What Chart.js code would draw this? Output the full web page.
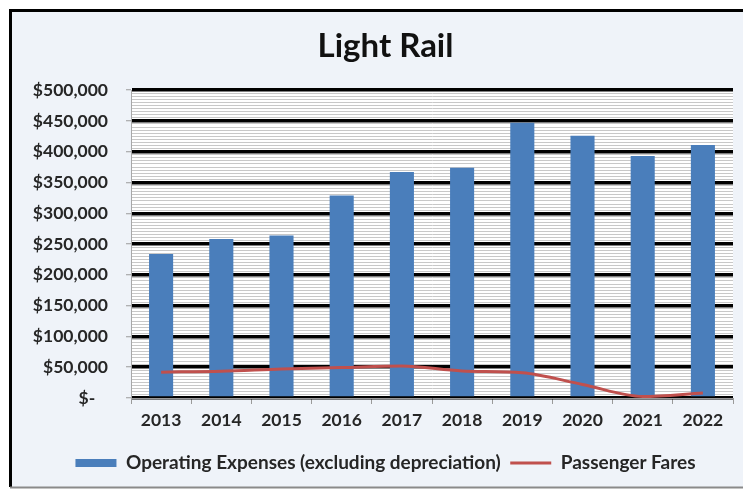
<!DOCTYPE html>
<html>
<head>
<meta charset="utf-8">
<title>Light Rail</title>
<script src="https://cdn.jsdelivr.net/npm/chart.js@4/dist/chart.umd.min.js"></script>
<style>
  html, body { margin: 0; padding: 0; background: #ffffff; }
  #wrap { width: 743px; height: 490px; position: relative; }
</style>
</head>
<body>
<div id="wrap"><canvas id="chart" width="743" height="490"></canvas></div>
<script>
// Fiscal years shown on the category axis
const years = ['2013', '2014', '2015', '2016', '2017', '2018', '2019', '2020', '2021', '2022'];

// Operating expenses (excluding depreciation), dollars
const operatingExpenses = [234000, 258000, 264000, 329000, 367000, 374000, 447000, 426000, 393000, 411000];

// Passenger fare revenue, dollars
const passengerFares = [42000, 43500, 47000, 49500, 52000, 44000, 41000, 22000, 2500, 8000];

// Value axis: labelled every 50,000 with light minor rules every 5,000
const yMax = 500000;
const majorStep = 50000;
const minorStep = 5000;

const FONT = 'Lato, "Open Sans", sans-serif';
const TEXT = '#262626';

function moneyLabel(v) {
  if (v === 0) return '$-   ';
  return '$' + v.toLocaleString('en-US');
}
const isMajor = v => v % majorStep === 0;

// Framed panel behind the chart, and a white plot area
const framePlugin = {
  id: 'frame',
  afterLayout(chart) {
    // title and legend sit centred on the framed panel rather than the canvas
    const shift = 12;
    if (chart.titleBlock) { chart.titleBlock.left += shift; chart.titleBlock.right += shift; }
    if (chart.legend) { chart.legend.left += shift; chart.legend.right += shift; }
  },
  beforeDraw(chart) {
    const { ctx, chartArea: a } = chart;
    ctx.save();
    ctx.fillStyle = '#ffffff';
    ctx.fillRect(0, 0, chart.width, chart.height);
    ctx.fillStyle = '#eff3f9';
    ctx.fillRect(10, 10, chart.width, 477);
    ctx.strokeStyle = '#000000';
    ctx.lineWidth = 3;
    ctx.beginPath();
    ctx.moveTo(chart.width + 5, 10.5);
    ctx.lineTo(10.5, 10.5);
    ctx.lineTo(10.5, 487);
    ctx.stroke();
    ctx.strokeStyle = '#8a8a8a';
    ctx.lineWidth = 2;
    ctx.beginPath();
    ctx.moveTo(10, 487.5);
    ctx.lineTo(chart.width, 487.5);
    ctx.stroke();
    ctx.fillStyle = '#ffffff';
    ctx.fillRect(a.left, a.top, a.right - a.left, a.bottom - a.top);
    ctx.restore();
  }
};

new Chart(document.getElementById('chart'), {
  data: {
    labels: years,
    datasets: [
      {
        type: 'line',
        label: 'Passenger Fares',
        data: passengerFares,
        borderColor: '#c0504d',
        backgroundColor: '#c0504d',
        borderWidth: 3,
        pointRadius: 0,
        pointStyle: 'line',
        cubicInterpolationMode: 'monotone',
        fill: false
      },
      {
        type: 'bar',
        label: 'Operating Expenses (excluding depreciation)',
        data: operatingExpenses,
        backgroundColor: '#4a7ebb',
        borderWidth: 0,
        pointStyle: 'rect',
        barPercentage: 0.4,
        categoryPercentage: 1.0
      }
    ]
  },
  options: {
    responsive: false,
    animation: false,
    devicePixelRatio: 1,
    layout: { padding: { left: 14, right: 10, top: 0, bottom: 7.5 } },
    plugins: {
      title: {
        display: true,
        text: 'Light Rail',
        color: '#111111',
        font: { family: FONT, size: 33, weight: 'bold' },
        padding: { top: 27, bottom: 23.5 }
      },
      legend: {
        position: 'bottom',
        reverse: true,
        labels: {
          usePointStyle: true,
          pointStyleWidth: 41,
          boxHeight: 8,
          padding: 9.5,
          color: TEXT,
          font: { family: FONT, size: 19, weight: 'bold' }
        }
      },
      tooltip: { enabled: false }
    },
    scales: {
      x: {
        offset: true,
        grid: {
          offset: true,
          drawOnChartArea: false,
          drawTicks: true,
          tickLength: 6,
          color: '#9a9a9a'
        },
        border: { display: true, color: '#9a9a9a', width: 1 },
        ticks: {
          padding: 6,
          color: TEXT,
          font: { family: FONT, size: 17.5, weight: 'bold' }
        },
        afterFit(scale) { scale.height = 46; }
      },
      y: {
        min: 0,
        max: yMax,
        border: { display: true, color: '#a8a8a8', width: 1 },
        grid: {
          color: c => isMajor(c.tick.value) ? '#000000' : '#c8c8c8',
          lineWidth: c => isMajor(c.tick.value) ? 3.5 : 1,
          tickColor: c => isMajor(c.tick.value) ? '#9a9a9a' : 'rgba(0,0,0,0)',
          tickWidth: 1,
          tickLength: 5
        },
        ticks: {
          stepSize: minorStep,
          autoSkip: false,
          padding: 18,
          color: TEXT,
          font: { family: FONT, size: 17.5, weight: 'bold' },
          callback: v => isMajor(v) ? moneyLabel(v) : ''
        },
        afterFit(scale) { scale.width = 117; }
      }
    }
  },
  plugins: [framePlugin]
});
</script>
</body>
</html>
